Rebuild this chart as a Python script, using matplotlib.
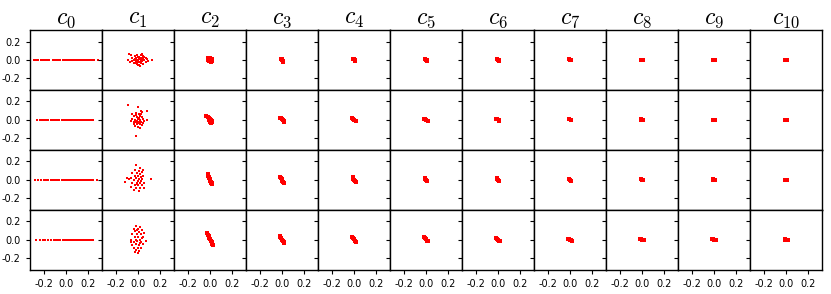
import matplotlib
matplotlib.use('Agg')
import matplotlib.pyplot as plt

plt.rcParams['mathtext.fontset'] = 'cm'
plt.rcParams['axes.unicode_minus'] = False

# ---------------- data ----------------
titles = [f'$c_{{{i}}}$' for i in range(11)]
ticks = [-0.2, 0.0, 0.2]

# c0: points on the line y = 0
c0_x = [
    [-0.29, -0.27, -0.25, -0.23, -0.21, -0.19, -0.17, -0.15, -0.12, -0.1, -0.08, -0.06, -0.05, -0.03, -0.02,
     -0.01, 0.0, 0.01, 0.02, 0.03, 0.04, 0.05, 0.06, 0.07, 0.08, 0.09, 0.1, 0.11, 0.12, 0.13, 0.14, 0.15,
     0.16, 0.17, 0.18, 0.19, 0.2, 0.22, 0.24, 0.26, 0.29],
    [-0.26, -0.24, -0.22, -0.2, -0.18, -0.16, -0.14, -0.12, -0.1, -0.08, -0.06, -0.04, -0.03, -0.02, -0.01,
     0.0, 0.01, 0.02, 0.03, 0.04, 0.05, 0.06, 0.07, 0.08, 0.09, 0.1, 0.11, 0.12, 0.13, 0.14, 0.15, 0.16,
     0.17, 0.18, 0.19, 0.2, 0.21, 0.22, 0.23, 0.24, 0.25],
    [-0.28, -0.25, -0.23, -0.2, -0.18, -0.16, -0.14, -0.12, -0.1, -0.08, -0.06, -0.04, -0.03, -0.02, -0.01,
     0.0, 0.01, 0.02, 0.03, 0.04, 0.05, 0.06, 0.07, 0.08, 0.09, 0.1, 0.11, 0.12, 0.13, 0.14, 0.15, 0.16,
     0.17, 0.18, 0.19, 0.2, 0.21, 0.22, 0.23, 0.25, 0.28],
    [-0.27, -0.24, -0.21, -0.19, -0.16, -0.14, -0.11, -0.09, -0.07, -0.05, -0.03, -0.02, -0.01, 0.0, 0.01,
     0.02, 0.03, 0.04, 0.05, 0.06, 0.07, 0.08, 0.09, 0.1, 0.11, 0.12, 0.13, 0.14, 0.15, 0.16, 0.17, 0.18,
     0.19, 0.2, 0.21, 0.22, 0.23, 0.24, 0.25],
]

# c1: wide clouds
c1_pts = [
    [(-0.09, 0.0), (-0.08, 0.06), (-0.06, 0.05), (-0.07, -0.02), (-0.05, 0.02), (-0.04, -0.03), (-0.03, 0.01),
     (-0.03, 0.04), (-0.02, -0.01), (-0.02, 0.02), (-0.01, 0.0), (-0.01, -0.04), (0.0, 0.03), (0.0, -0.02),
     (0.0, 0.0), (0.01, 0.01), (0.01, -0.05), (0.02, 0.02), (0.02, -0.02), (0.03, 0.05), (0.03, 0.0),
     (0.03, -0.03), (0.04, 0.02), (0.04, -0.01), (0.05, 0.01), (0.05, -0.04), (0.06, 0.0), (0.06, 0.03),
     (0.07, -0.02), (0.08, 0.01), (0.13, 0.0), (0.04, 0.06), (-0.04, 0.0), (0.02, -0.07), (-0.01, 0.05),
     (0.05, 0.04), (0.0, -0.06), (-0.05, -0.01), (0.07, 0.02), (0.01, 0.03), (0.09, -0.01), (-0.02, -0.03)],
    [(-0.09, 0.16), (0.0, 0.14), (0.08, 0.1), (0.04, 0.08), (-0.02, 0.07), (0.01, 0.06), (-0.04, 0.04),
     (-0.01, 0.03), (0.02, 0.04), (0.04, 0.03), (-0.05, 0.01), (-0.03, 0.0), (0.0, 0.01), (0.02, 0.0),
     (0.05, 0.01), (0.08, 0.0), (-0.06, -0.01), (-0.02, -0.02), (0.01, -0.02), (0.03, -0.02), (0.05, -0.03),
     (-0.04, -0.04), (-0.01, -0.05), (0.02, -0.05), (0.04, -0.06), (-0.03, -0.07), (0.0, -0.08),
     (0.02, -0.09), (-0.02, -0.17), (-0.05, 0.06), (0.03, 0.1), (0.0, -0.03), (-0.02, 0.05), (0.06, -0.01),
     (0.01, 0.02), (-0.01, -0.01), (0.03, 0.06), (-0.04, -0.02)],
    [(-0.02, 0.16), (0.02, 0.13), (-0.03, 0.11), (0.01, 0.1), (0.04, 0.08), (-0.05, 0.07), (-0.01, 0.07),
     (0.02, 0.06), (-0.03, 0.04), (0.0, 0.04), (0.05, 0.04), (-0.06, 0.02), (-0.02, 0.02), (0.01, 0.01),
     (0.04, 0.01), (-0.12, -0.02), (-0.08, 0.01), (-0.04, 0.0), (0.0, -0.01), (0.03, -0.01), (0.12, 0.01),
     (-0.05, -0.03), (-0.01, -0.03), (0.02, -0.04), (0.06, -0.03), (-0.03, -0.06), (0.0, -0.06),
     (0.04, -0.06), (-0.02, -0.09), (0.02, -0.09), (0.06, -0.09), (-0.04, -0.11), (0.01, -0.12),
     (-0.1, 0.02), (0.05, 0.11), (-0.06, -0.08), (0.03, 0.03), (-0.01, -0.05)],
    [(-0.02, 0.15), (0.02, 0.14), (-0.04, 0.12), (0.0, 0.12), (0.04, 0.11), (-0.03, 0.09), (0.01, 0.08),
     (-0.05, 0.06), (-0.01, 0.06), (0.03, 0.06), (0.06, 0.07), (-0.03, 0.03), (0.0, 0.03), (0.04, 0.02),
     (-0.06, 0.0), (-0.02, 0.0), (0.02, 0.0), (0.07, -0.01), (-0.04, -0.03), (-0.01, -0.02), (0.03, -0.03),
     (-0.05, -0.06), (-0.02, -0.05), (0.01, -0.06), (0.05, -0.05), (-0.04, -0.09), (0.0, -0.09),
     (0.03, -0.09), (-0.02, -0.11), (0.01, -0.12), (0.0, -0.15), (-0.03, -0.13), (0.05, 0.03),
     (-0.01, 0.1), (0.02, -0.04), (-0.06, -0.03)],
]

# c2 .. c10: small clusters near the origin (one list per row)
c2_pts = [
    [(-0.02, 0.02), (0.0, 0.025), (0.02, 0.015), (-0.015, 0.0), (0.005, 0.005), (0.015, -0.01),
     (-0.01, -0.015), (0.01, -0.025), (0.0, -0.01)],
    [(-0.035, 0.04), (-0.02, 0.03), (-0.01, 0.02), (0.0, 0.01), (0.01, 0.0), (0.02, -0.01),
     (0.01, -0.03), (0.0, -0.02), (0.02, -0.02), (-0.01, 0.0)],
    [(-0.02, 0.06), (-0.015, 0.04), (-0.005, 0.03), (-0.01, 0.02), (0.0, 0.01), (0.005, -0.01),
     (0.01, -0.02), (0.015, -0.04), (0.02, -0.05), (0.01, -0.035)],
    [(-0.025, 0.07), (-0.02, 0.05), (-0.01, 0.04), (-0.005, 0.02), (0.0, 0.01), (0.01, -0.01),
     (0.015, -0.03), (0.02, -0.04), (0.025, -0.06), (0.015, -0.05)],
]
c3_pts = [
    [(-0.01, 0.015), (0.0, 0.01), (0.005, 0.0), (0.01, -0.01), (0.012, -0.02), (0.0, -0.005)],
    [(-0.02, 0.02), (-0.01, 0.015), (0.0, 0.005), (0.01, -0.005), (0.02, -0.015), (0.015, -0.02)],
    [(-0.015, 0.035), (-0.01, 0.02), (0.0, 0.01), (0.005, -0.01), (0.01, -0.02), (0.015, -0.035)],
    [(-0.02, 0.04), (-0.015, 0.03), (-0.005, 0.015), (0.0, 0.0), (0.01, -0.015), (0.015, -0.03),
     (0.02, -0.04)],
]
c4_pts = [
    [(-0.008, 0.015), (0.0, 0.005), (0.008, -0.005), (0.01, -0.015)],
    [(-0.015, 0.015), (-0.005, 0.008), (0.005, -0.002), (0.015, -0.012)],
    [(-0.012, 0.025), (-0.004, 0.012), (0.004, -0.002), (0.012, -0.018), (0.015, -0.025)],
    [(-0.02, 0.03), (-0.01, 0.018), (0.0, 0.005), (0.01, -0.01), (0.02, -0.025)],
]
c5_pts = [
    [(-0.008, 0.01), (0.0, 0.004), (0.008, -0.004), (0.01, -0.01)],
    [(-0.015, 0.012), (-0.005, 0.006), (0.005, -0.002), (0.015, -0.01)],
    [(-0.012, 0.02), (-0.004, 0.01), (0.004, -0.002), (0.012, -0.015)],
    [(-0.018, 0.025), (-0.008, 0.014), (0.002, 0.002), (0.012, -0.01), (0.02, -0.02)],
]
c6_pts = [
    [(-0.008, 0.008), (0.0, 0.003), (0.008, -0.003), (0.01, -0.008)],
    [(-0.014, 0.01), (-0.004, 0.005), (0.006, -0.002), (0.014, -0.008)],
    [(-0.012, 0.016), (-0.004, 0.008), (0.004, -0.002), (0.012, -0.012)],
    [(-0.016, 0.018), (-0.006, 0.01), (0.004, 0.0), (0.014, -0.01), (0.018, -0.014)],
]
c7_pts = [
    [(-0.008, 0.006), (0.0, 0.002), (0.008, -0.003), (0.01, -0.006)],
    [(-0.012, 0.008), (-0.004, 0.004), (0.006, -0.002), (0.012, -0.006)],
    [(-0.012, 0.012), (-0.004, 0.006), (0.004, -0.002), (0.012, -0.009)],
    [(-0.016, 0.012), (-0.006, 0.006), (0.004, 0.0), (0.014, -0.006), (0.018, -0.01)],
]
c8_pts = [
    [(-0.008, 0.004), (0.0, 0.001), (0.008, -0.002), (0.01, -0.004)],
    [(-0.012, 0.006), (-0.004, 0.003), (0.006, -0.001), (0.012, -0.005)],
    [(-0.012, 0.008), (-0.004, 0.004), (0.004, -0.001), (0.012, -0.006)],
    [(-0.014, 0.01), (-0.006, 0.006), (0.004, 0.0), (0.012, -0.005), (0.016, -0.008)],
]
c9_pts = [
    [(-0.008, 0.002), (0.0, 0.001), (0.008, -0.001), (0.012, -0.002)],
    [(-0.01, 0.003), (-0.002, 0.001), (0.006, -0.001), (0.012, -0.003)],
    [(-0.012, 0.004), (-0.004, 0.002), (0.004, -0.001), (0.012, -0.003)],
    [(-0.014, 0.006), (-0.006, 0.003), (0.004, 0.0), (0.012, -0.003), (0.016, -0.005)],
]
c10_pts = [
    [(-0.008, 0.0), (0.0, 0.0), (0.008, 0.0), (0.012, -0.001)],
    [(-0.01, 0.001), (-0.002, 0.0), (0.006, 0.0), (0.012, -0.001)],
    [(-0.012, 0.001), (-0.004, 0.0), (0.004, 0.0), (0.012, -0.001)],
    [(-0.012, 0.002), (-0.004, 0.001), (0.004, 0.0), (0.012, -0.001), (0.016, -0.002)],
]

cluster_cols = [c1_pts, c2_pts, c3_pts, c4_pts, c5_pts, c6_pts, c7_pts, c8_pts, c9_pts, c10_pts]

# ---------------- figure ----------------
fig, axes = plt.subplots(4, 11, figsize=(8.31, 2.94), dpi=100, sharex=True, sharey=True)
fig.subplots_adjust(left=0.036, right=0.989, top=0.898, bottom=0.083, wspace=0, hspace=0)

for r in range(4):
    for c in range(11):
        ax = axes[r, c]
        if c == 0:
            xs = c0_x[r]
            ys = [0.0] * len(xs)
            size = 4
        else:
            pts = cluster_cols[c - 1][r]
            xs = [p[0] for p in pts]
            ys = [p[1] for p in pts]
            size = 4 if c == 1 else 6
        ax.scatter(xs, ys, s=size, c='red', marker='s', linewidths=0)
        ax.set_xlim(-0.328, 0.328)
        ax.set_ylim(-0.325, 0.325)
        ax.set_xticks(ticks)
        ax.set_yticks(ticks)
        ax.tick_params(labelsize=7, length=3, width=0.8)
        for sp in ax.spines.values():
            sp.set_linewidth(1.0)
        if r == 0:
            ax.set_title(titles[c], fontsize=17, pad=2)

plt.savefig('out.png', dpi=100)
